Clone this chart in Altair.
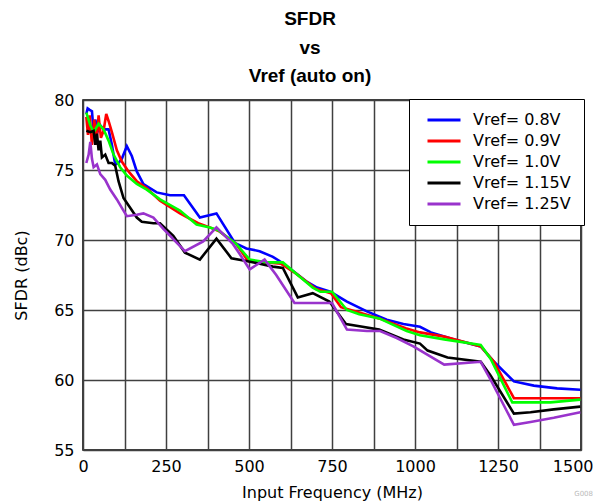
import altair as alt
import pandas as pd

series_names = ["Vref= 0.8V", "Vref= 0.9V", "Vref= 1.0V", "Vref= 1.15V", "Vref= 1.25V"]
series_colors = ["#0000ff", "#ff0000", "#00ff00", "#000000", "#9933cc"]

# Vref = 0.8 V
blue_x = [10, 14, 20, 27, 32, 37, 45, 52, 62, 77, 87, 97, 107, 117, 132, 147, 162, 182, 222, 262, 304,
          352, 402, 457, 492, 532, 572, 592, 632, 675, 705, 745, 795, 855, 915, 965, 1015, 1048, 1118,
          1198, 1238, 1298, 1358, 1428, 1498]
blue_y = [79.0, 79.4, 79.3, 79.2, 77.7, 78.6, 77.8, 78.2, 77.9, 77.9, 76.8, 75.4, 75.5, 75.8, 76.7, 76.0,
          74.9, 74.0, 73.4, 73.2, 73.2, 71.6, 71.9, 69.8, 69.4, 69.2, 68.8, 68.5, 67.8, 67.0, 66.6, 66.3,
          65.6, 64.9, 64.3, 64.0, 63.8, 63.4, 62.9, 62.4, 61.3, 59.9, 59.6, 59.4, 59.3]

# Vref = 0.9 V
red_x = [10, 15, 20, 27, 34, 40, 47, 54, 62, 70, 77, 87, 102, 117, 137, 162, 192, 232, 292, 347, 382,
         412, 462, 497, 552, 597, 642, 702, 747, 777, 822, 892, 972, 1015, 1088, 1198, 1238, 1298, 1498]
red_y = [78.8, 77.5, 78.9, 76.8, 78.6, 76.8, 78.9, 77.3, 77.8, 79.0, 78.5, 77.7, 76.4, 75.6, 74.9, 74.2,
         73.7, 72.8, 71.9, 71.2, 70.9, 70.6, 69.7, 68.5, 68.4, 68.3, 67.6, 66.5, 66.2, 65.2, 64.9, 64.4,
         63.7, 63.4, 63.1, 62.4, 61.3, 58.7, 58.7]

# Vref = 1.0 V
green_x = [10, 22, 32, 47, 62, 77, 92, 112, 132, 162, 192, 232, 292, 342, 382, 407, 462, 502, 552, 602,
           652, 692, 715, 750, 795, 832, 892, 975, 1015, 1088, 1198, 1228, 1293, 1408, 1498]
green_y = [79.1, 78.2, 77.7, 78.3, 77.9, 77.1, 76.1, 75.2, 74.6, 74.0, 73.6, 72.9, 72.1, 71.1, 70.9, 70.7,
           69.7, 68.6, 68.4, 68.4, 67.4, 66.6, 66.3, 66.3, 65.0, 64.7, 64.4, 63.5, 63.2, 62.9, 62.5, 61.5,
           58.4, 58.4, 58.6]

# Vref = 1.15 V
black_x = [10, 22, 32, 37, 42, 47, 52, 57, 67, 77, 87, 97, 107, 122, 142, 162, 177, 212, 232, 272, 307,
           352, 402, 447, 492, 532, 572, 602, 647, 692, 742, 792, 842, 892, 965, 1015, 1038, 1098, 1198,
           1228, 1298, 1348, 1418, 1498]
black_y = [77.8, 77.7, 77.8, 76.8, 77.6, 76.4, 77.1, 75.9, 76.1, 75.5, 75.5, 75.3, 74.2, 73.0, 72.3, 71.6,
           71.3, 71.2, 71.2, 70.3, 69.1, 68.6, 70.1, 68.7, 68.5, 68.3, 68.1, 68.0, 65.9, 66.2, 65.6, 64.0,
           63.8, 63.6, 62.9, 62.6, 62.1, 61.6, 61.3, 60.3, 57.6, 57.7, 57.9, 58.1]

# Vref = 1.25 V
purple_x = [10, 17, 22, 27, 32, 42, 52, 67, 82, 102, 117, 132, 162, 182, 212, 242, 307, 362, 402, 452,
            472, 502, 547, 582, 637, 692, 750, 795, 855, 895, 945, 995, 1088, 1198, 1228, 1298, 1348,
            1418, 1498]
purple_y = [75.5, 76.1, 77.0, 75.8, 75.2, 75.4, 74.7, 74.3, 73.6, 72.9, 72.3, 71.7, 71.8, 71.9, 71.6, 70.8,
            69.2, 69.9, 70.9, 69.7, 69.0, 67.9, 68.6, 67.5, 65.5, 65.5, 65.5, 63.6, 63.5, 63.5, 63.0, 62.4,
            61.1, 61.3, 60.0, 56.8, 57.0, 57.3, 57.7]

x_ticks = [0, 125, 250, 375, 500, 625, 750, 875, 1000, 1125, 1250, 1375, 1500]
y_ticks = [55, 60, 65, 70, 75, 80]

all_x = [blue_x, red_x, green_x, black_x, purple_x]
all_y = [blue_y, red_y, green_y, black_y, purple_y]
rows = []
for name, xs, ys in zip(series_names, all_x, all_y):
    for i, (xv, yv) in enumerate(zip(xs, ys)):
        rows.append({"series": name, "freq": xv, "sfdr": yv, "idx": i})
df = pd.DataFrame(rows)

FONT = "DejaVu Sans"

lines = alt.Chart(df).mark_line(strokeWidth=2.6, clip=True).encode(
    x=alt.X("freq:Q",
            scale=alt.Scale(domain=[0, 1500], nice=False, zero=False),
            axis=alt.Axis(values=x_ticks,
                          labelExpr="datum.value % 250 == 0 ? datum.label : ''",
                          format="d", labelFlush=False,
                          labelAlign=alt.condition("datum.value == 1500", alt.value("right"), alt.value("center")),
                          labelOffset=alt.condition("datum.value == 1500", alt.value(12), alt.value(0)),
                          title="Input Frequency (MHz)",
                          titleY=42, titleBaseline="middle",
                          labelPadding=8)),
    y=alt.Y("sfdr:Q",
            scale=alt.Scale(domain=[55, 80], nice=False, zero=False),
            axis=alt.Axis(values=y_ticks, title="SFDR (dBc)", labelFlush=False,
                          titleX=-62, titleY=175, titleBaseline="middle",
                          labelPadding=9)),
    color=alt.Color("series:N",
                    scale=alt.Scale(domain=series_names, range=series_colors),
                    legend=alt.Legend(orient="none", legendX=326, legendY=-1, title=None,
                                      symbolType="M-2.75,0L2.75,0", symbolSize=144,
                                      symbolStrokeWidth=3, symbolOffset=14,
                                      labelFontSize=16, labelFont=FONT, labelColor="#000",
                                      labelOffset=21, rowPadding=5, padding=13,
                                      strokeColor="#000", fillColor="#fff",
                                      labelLimit=200)),
    order=alt.Order("idx:Q"),
)

note = alt.Chart(pd.DataFrame({"t": ["G008"]})).mark_text(
    fontSize=7, color="#bbbbbb", font=FONT, align="right", baseline="middle"
).encode(x=alt.value(510), y=alt.value(394), text="t:N")

chart = alt.layer(lines, note).properties(
    width=498, height=350,
    title=alt.TitleParams(text=["SFDR", "vs", "Vref (auto on)"],
                          font="Liberation Sans", fontSize=19, fontWeight="bold",
                          color="#000", lineHeight=28.5, anchor="middle", dx=-22, offset=6),
    autosize=alt.AutoSizeParams(type="none"),
    padding={"left": 75, "top": 92, "right": 13, "bottom": 53},
    background="#ffffff",
).configure_view(
    stroke="#000", strokeWidth=1.5
).configure_axis(
    grid=True, gridColor="#404040", gridWidth=1.5, gridOpacity=1,
    ticks=False, domain=False,
    labelFont=FONT, labelFontSize=16, labelColor="#000",
    titleFont=FONT, titleFontSize=16, titleColor="#000", titleFontWeight="normal",
)

chart.save("out.html", embed_options={"renderer": "svg", "actions": False})
